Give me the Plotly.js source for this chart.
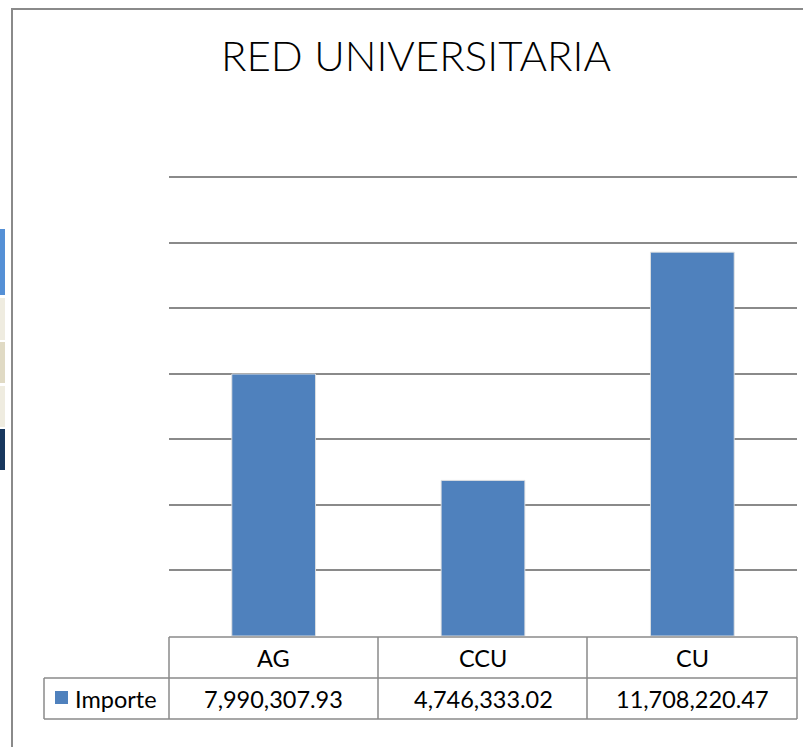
<!DOCTYPE html>
<html>
<head>
<meta charset="utf-8">
<script src="https://cdn.plot.ly/plotly-3.0.1.min.js"></script>
<style>html,body{margin:0;padding:0;background:#fff;overflow:hidden;}#chart{width:803px;height:747px;}</style>
</head>
<body>
<div id="chart"></div>
<script>
var categories = ["AG", "CCU", "CU"];
var importe = [7990307.93, 4746333.02, 11708220.47];
var valueLabels = ["7,990,307.93", "4,746,333.02", "11,708,220.47"];
var seriesName = "Importe";
var chartTitle = "RED UNIVERSITARIA";
var yMax = 14000000;
var yStep = 2000000;

var W = 803, H = 747;
function px(x){ return x / W; }
function py(y){ return 1 - y / H; }

var gray = "#8a8a8a";
var barColor = "#4f81bd";

var trace = {
  type: "bar",
  x: categories,
  y: importe,
  marker: { color: barColor, line: { color: "rgba(225,225,225,0.9)", width: 1 } },
  width: 0.4,
  hoverinfo: "none"
};

var shapes = [];
// chart outer border: a frame whose right and bottom edges fall outside the picture
shapes.push({type:"rect", xref:"paper", yref:"paper", x0:px(12), x1:1.05, y0:-0.05, y1:py(9),
  fillcolor:"rgba(0,0,0,0)", line:{color:gray, width:2}, layer:"below"});
// left strips (background artifacts)
var strips = [[229,295,"#5590d6"],[298,340,"#efece0"],[342,383,"#e0dac4"],[386,427,"#efece0"],[429,470,"#17375e"]];
strips.forEach(function(s){
  shapes.push({type:"rect", xref:"paper", yref:"paper", x0:0, x1:px(5), y0:py(s[0]), y1:py(s[1]), line:{width:0}, fillcolor:s[2], layer:"below"});
});
// data table lines
var tTop = 637, tMid = 678, tBot = 719, tLeft = 44, cLeft = 169, tRight = 797;
shapes.push({type:"line", xref:"paper", yref:"paper", x0:px(cLeft), x1:px(tRight), y0:py(tTop), y1:py(tTop), line:{color:gray, width:1.5}});
shapes.push({type:"line", xref:"paper", yref:"paper", x0:px(tLeft), x1:px(tRight), y0:py(tMid), y1:py(tMid), line:{color:gray, width:1.5}});
shapes.push({type:"line", xref:"paper", yref:"paper", x0:px(tLeft), x1:px(tRight), y0:py(tBot), y1:py(tBot), line:{color:gray, width:1.5}});
shapes.push({type:"line", xref:"paper", yref:"paper", x0:px(tLeft), x1:px(tLeft), y0:py(tMid), y1:py(tBot), line:{color:gray, width:1.5}});
var colEdges = [169, 378, 587, 797];
colEdges.forEach(function(x){
  shapes.push({type:"line", xref:"paper", yref:"paper", x0:px(x), x1:px(x), y0:py(tTop), y1:py(tBot), line:{color:gray, width:1.5}});
});
// legend key swatch
shapes.push({type:"rect", xref:"paper", yref:"paper", x0:px(55), x1:px(68), y0:py(691), y1:py(704), line:{width:0}, fillcolor:barColor});

var tableFont = {family:"Lato, 'Open Sans', sans-serif", size:23.5, color:"#000"};
var annotations = [];
categories.forEach(function(c, i){
  annotations.push({xref:"x", yref:"paper", x:c, y:py((tTop+tMid)/2), text:c, showarrow:false, font:tableFont, xanchor:"center", yanchor:"middle"});
  annotations.push({xref:"x", yref:"paper", x:c, y:py((tMid+tBot)/2), text:valueLabels[i], showarrow:false, font:tableFont, xanchor:"center", yanchor:"middle"});
});
annotations.push({xref:"paper", yref:"paper", x:px(73), y:py((tMid+tBot)/2), text:seriesName, showarrow:false, font:tableFont, xanchor:"left", yanchor:"middle"});

var y0px = 636, yTopPx = 177;
var pad = 1.004;
var domTopPx = y0px - (y0px - yTopPx) * pad;

var layout = {
  width: W, height: H,
  margin: {l:0, r:0, t:0, b:0},
  paper_bgcolor: "#ffffff",
  plot_bgcolor: "rgba(0,0,0,0)",
  showlegend: false,
  title: {text: chartTitle, x: px(416), xanchor:"center", y: py(56), yanchor:"middle",
          font:{family:"Lato, 'Open Sans', sans-serif", size:42, color:"#000", weight:300}},
  xaxis: {domain:[px(cLeft), px(tRight)], showticklabels:false, showgrid:false, zeroline:false, showline:false, fixedrange:true},
  yaxis: {domain:[py(y0px), py(domTopPx)], range:[0, yMax * pad], dtick:yStep, tick0:0, showticklabels:false,
          showgrid:true, gridcolor:gray, gridwidth:2, zeroline:false, showline:false, ticks:"", fixedrange:true},
  bargap: 0.6,
  shapes: shapes,
  annotations: annotations
};

Plotly.newPlot("chart", [trace], layout, {displayModeBar:false, staticPlot:true});
</script>
</body>
</html>
